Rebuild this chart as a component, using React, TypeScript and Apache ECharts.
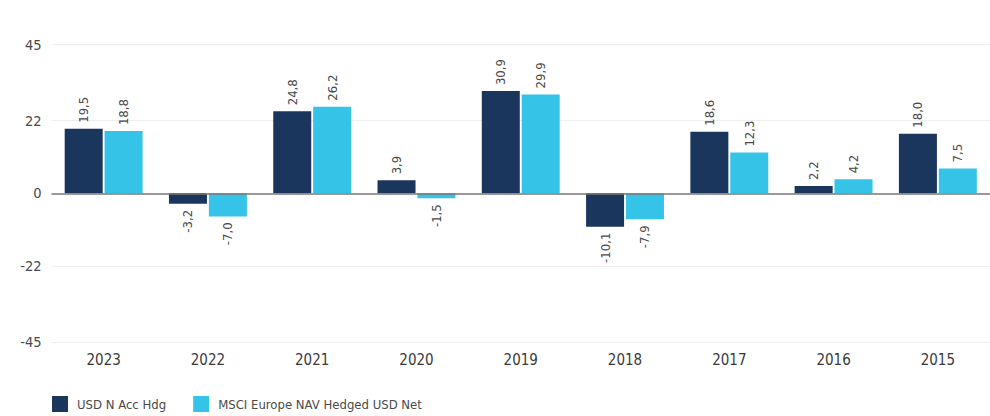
import React, { useEffect, useRef } from "react";
import * as echarts from "echarts";

const categories = ["2023", "2022", "2021", "2020", "2019", "2018", "2017", "2016", "2015"];
const fundValues = [19.5, -3.2, 24.8, 3.9, 30.9, -10.1, 18.6, 2.2, 18.0];
const indexValues = [18.8, -7.0, 26.2, -1.5, 29.9, -7.9, 12.3, 4.2, 7.5];
const yTicks = [-45, -22, 0, 22, 45];
const seriesNames = ["USD N Acc Hdg", "MSCI Europe NAV Hedged USD Net"];

const FONT = "'DejaVu Sans Condensed', 'Liberation Sans Narrow', sans-serif";

function fmt(v: number) {
  return v.toFixed(1).replace(".", ",");
}

function barData(vals: number[]) {
  return vals.map((v) => ({
    value: v,
    label:
      v >= 0
        ? { position: "top", align: "left", rotate: 90, verticalAlign: "middle" }
        : { position: "bottom", align: "right", rotate: 90, verticalAlign: "middle" },
  }));
}

export default function App() {
  const ref = useRef<HTMLDivElement>(null);
  useEffect(() => {
    const chart = echarts.init(ref.current!, null, { renderer: "svg" });
    const label = {
      show: true,
      distance: 6,
      color: "#4a4a4a",
      fontSize: 13,
      fontFamily: FONT,
      formatter: (p: any) => fmt(p.value),
    };
    chart.setOption({
      animation: false,
      grid: { left: 51.5, right: -6.5, top: 44.5, bottom: 74 },
      legend: {
        data: seriesNames,
        left: 47,
        top: 391,
        itemWidth: 16,
        itemHeight: 16,
        itemGap: 27,
        icon: "rect",
        textStyle: { color: "#4a4a4a", fontSize: 13, fontFamily: FONT, padding: [0, 0, 0, 4] },
      },
      xAxis: {
        type: "category",
        data: categories,
        axisLine: { show: false, onZero: false },
        axisTick: { show: false },
        axisLabel: { color: "#3a3a3a", fontSize: 15, fontFamily: FONT, margin: 10 },
      },
      yAxis: {
        type: "value",
        min: -45,
        max: 45,
        interval: 1,
        splitLine: { show: false },
        axisLine: { show: false },
        axisTick: { show: false },
        axisLabel: {
          customValues: yTicks,
          color: "#4a4a4a",
          fontSize: 14.5,
          fontFamily: FONT,
          margin: 10,
        },
      },
      series: [
        {
          type: "line",
          name: "grid",
          data: [],
          z: 0,
          silent: true,
          markLine: {
            silent: true,
            z: 0,
            symbol: "none",
            label: { show: false },
            lineStyle: { color: "#eeeeee", width: 1, type: "solid" },
            data: yTicks.filter((t) => t !== 0).map((t) => ({ yAxis: t })),
          },
        },
        {
          type: "bar",
          name: seriesNames[0],
          data: barData(fundValues),
          barWidth: 38,
          barGap: "5%",
          itemStyle: { color: "#1b365d" },
          label,
          z: 2,
          markLine: {
            silent: true,
            z: 5,
            symbol: "none",
            label: { show: false },
            lineStyle: { color: "#777", width: 1.5, type: "solid" },
            data: [{ yAxis: 0 }],
          },
        },
        {
          type: "bar",
          name: seriesNames[1],
          data: barData(indexValues),
          barWidth: 38,
          barGap: "5%",
          itemStyle: { color: "#35c4e8" },
          label,
          z: 2,
        },
      ],
    });
    return () => chart.dispose();
  }, []);
  return (
    <div
      ref={ref}
      style={{ position: "fixed", left: 0, top: 0, width: 990, height: 416, background: "#fff" }}
    />
  );
}
